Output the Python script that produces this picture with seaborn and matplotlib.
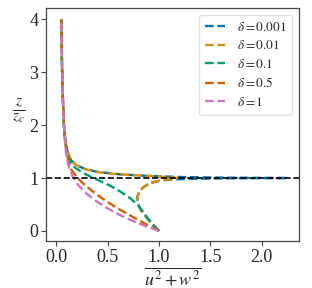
import matplotlib
matplotlib.use("Agg")
import matplotlib.pyplot as plt
import seaborn as sns
import numpy as np

sns.set_style("ticks")
plt.rcParams['font.family'] = ['Liberation Serif', 'DejaVu Serif']
plt.rcParams['mathtext.fontset'] = 'stix'

labels = [r"$\delta=0.001$", r"$\delta=0.01$", r"$\delta=0.1$", r"$\delta=0.5$", r"$\delta=1$"]
colors = sns.color_palette("colorblind", 5)

# delta = 0.001
x_001 = [1.00, 0.95, 0.88, 0.82, 0.79, 0.79, 0.81, 0.85, 0.91, 0.98, 1.10, 1.30, 1.60, 2.00, 2.25,
         2.00, 1.60, 1.20, 0.90, 0.62, 0.42, 0.28, 0.19, 0.14, 0.11, 0.09, 0.075, 0.065, 0.055, 0.05]
z_001 = [0.00, 0.10, 0.25, 0.40, 0.55, 0.65, 0.75, 0.83, 0.90, 0.94, 0.97, 0.985, 0.993, 0.998, 1.00,
         1.003, 1.008, 1.02, 1.04, 1.07, 1.11, 1.17, 1.25, 1.35, 1.50, 1.70, 2.00, 2.50, 3.20, 4.00]
# delta = 0.01
x_01 = [1.00, 0.95, 0.88, 0.82, 0.79, 0.79, 0.81, 0.85, 0.91, 0.98, 1.07, 1.15, 1.18,
        1.12, 0.95, 0.75, 0.55, 0.40, 0.28, 0.19, 0.14, 0.11, 0.09, 0.075, 0.065, 0.055, 0.05]
z_01 = [0.00, 0.10, 0.25, 0.40, 0.55, 0.65, 0.75, 0.83, 0.90, 0.94, 0.97, 0.99, 1.00,
        1.015, 1.035, 1.055, 1.08, 1.11, 1.17, 1.25, 1.35, 1.50, 1.70, 2.00, 2.50, 3.20, 4.00]
# delta = 0.1
x_1 = [1.00, 0.95, 0.90, 0.85, 0.80, 0.72, 0.62, 0.52, 0.42, 0.33, 0.25, 0.18, 0.14, 0.11, 0.09, 0.075, 0.065, 0.055, 0.05]
z_1 = [0.00, 0.10, 0.22, 0.35, 0.48, 0.62, 0.75, 0.86, 0.95, 1.03, 1.11, 1.20, 1.30, 1.45, 1.65, 2.00, 2.50, 3.20, 4.00]
# delta = 0.5
x_5 = [1.00, 0.88, 0.76, 0.64, 0.53, 0.43, 0.34, 0.26, 0.20, 0.15, 0.12, 0.10, 0.085, 0.07, 0.06, 0.05]
z_5 = [0.00, 0.12, 0.25, 0.38, 0.51, 0.64, 0.77, 0.90, 1.02, 1.15, 1.30, 1.50, 1.75, 2.20, 3.00, 4.00]
# delta = 1
x_10 = [1.00, 0.86, 0.72, 0.59, 0.47, 0.37, 0.28, 0.21, 0.16, 0.125, 0.10, 0.085, 0.07, 0.06, 0.05]
z_10 = [0.00, 0.10, 0.21, 0.33, 0.46, 0.59, 0.73, 0.88, 1.03, 1.20, 1.40, 1.70, 2.20, 3.00, 4.00]

series = [(x_001, z_001), (x_01, z_01), (x_1, z_1), (x_5, z_5), (x_10, z_10)]

fig = plt.figure(figsize=(3.12, 2.88), dpi=100)
ax = fig.add_axes([0.147, 0.163, 0.811, 0.809])

for (xs, zs), lab, c in zip(series, labels, colors):
    sns.lineplot(x=xs, y=zs, sort=False, estimator=None, ax=ax, color=c,
                 linestyle='--', linewidth=1.7, label=lab)

ax.axhline(1.0, color='black', linestyle='--', linewidth=1.2)

ax.set_xlim(-0.1, 2.36)
ax.set_ylim(-0.19, 4.21)
ax.set_xticks([0.0, 0.5, 1.0, 1.5, 2.0])
ax.set_xticklabels(["0.0", "0.5", "1.0", "1.5", "2.0"])
ax.set_yticks([0, 1, 2, 3, 4])
ax.tick_params(labelsize=13, length=3.5, color='#444444', pad=2)
for s in ax.spines.values():
    s.set_color('#444444')
    s.set_linewidth(0.9)
ax.set_xlabel(r"$\overline{u^2+w^2}$", fontsize=13, labelpad=1)
ax.set_ylabel(r"$\frac{z}{z_c}$", fontsize=16, rotation=0, va='center', ha='center')
ax.yaxis.set_label_coords(-0.107, 0.56)
leg = ax.legend(loc='upper right', fontsize=9.5, frameon=True, handlelength=1.5,
                borderpad=0.45, labelspacing=0.42, handletextpad=0.9, borderaxespad=0.5)
leg.get_frame().set_edgecolor('#dddddd')

fig.savefig("out.png", dpi=100)
